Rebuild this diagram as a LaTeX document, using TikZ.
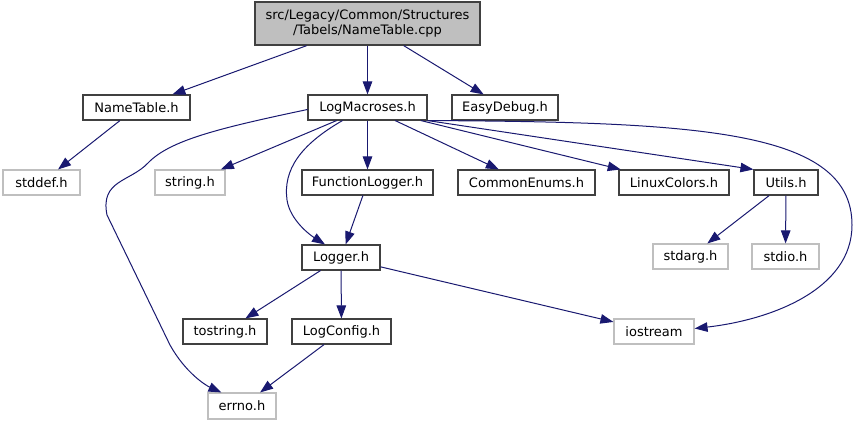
\documentclass[tikz,border=0pt]{standalone}
\usepackage{fontspec}
\setmainfont{DejaVu Sans}
\usetikzlibrary{arrows.meta}
\definecolor{edgeblue}{RGB}{25,25,112}
\definecolor{boxline}{RGB}{64,64,64}
\definecolor{sysline}{RGB}{191,191,191}
\definecolor{rootbg}{RGB}{191,191,191}

\begin{document}
\begin{tikzpicture}[x=1pt, y=-1pt,
  hdr/.style={rectangle, draw=boxline, line width=1.1pt, inner sep=0pt,
              minimum height=25pt, font=\fontsize{13}{15}\selectfont},
  sys/.style={hdr, draw=sysline},
  top/.style={hdr, fill=rootbg, align=center, line width=1.3pt},
  arr/.style={-{Triangle[length=13pt, width=9.5pt]}, line width=1pt, color=edgeblue}
]
  \useasboundingbox (0,0) rectangle (857,425);

  \node[top, minimum width=225pt, minimum height=43pt] (root) at (367.5,23.5)
    {src/Legacy/Common/Structures\\/Tabels/NameTable.cpp};

  \node[hdr, minimum width=107pt] (nametab) at (136.5,107.5) {NameTable.h};
  \node[hdr, minimum width=119pt] (logmac)  at (367.5,107.5) {LogMacroses.h};
  \node[hdr, minimum width=106pt] (easydbg) at (505,107.5)   {EasyDebug.h};

  \node[sys, minimum width=77pt]  (stddef)  at (41.5,182.5)  {stddef.h};
  \node[sys, minimum width=70pt]  (strh)    at (190,182.5)   {string.h};
  \node[hdr, minimum width=131pt] (funclog) at (367.5,182.5) {FunctionLogger.h};
  \node[hdr, minimum width=137pt] (cenums)  at (526.5,182.5) {CommonEnums.h};
  \node[hdr, minimum width=110pt] (lincol)  at (674,182.5)   {LinuxColors.h};
  \node[hdr, minimum width=64pt]  (utils)   at (786,182.5)   {Utils.h};

  \node[hdr, minimum width=78pt]  (logger)  at (341,257.5)   {Logger.h};
  \node[sys, minimum width=75pt]  (stdarg)  at (690.5,256.5) {stdarg.h};
  \node[sys, minimum width=67pt]  (stdio)   at (785.5,256.5) {stdio.h};

  \node[hdr, minimum width=84pt]  (tostr)   at (225,331.5)   {tostring.h};
  \node[hdr, minimum width=99pt]  (logcfg)  at (341.5,331.5) {LogConfig.h};
  \node[sys, minimum width=80pt]  (iostrm)  at (654,331.5)   {iostream};

  \node[sys, minimum width=68pt, minimum height=26pt] (errno) at (242,406) {errno.h};

  % includes of the cpp file
  \draw[arr] (root) -- (nametab);
  \draw[arr] (root) -- (logmac);
  \draw[arr] (root) -- (easydbg);
  \draw[arr] (nametab) -- (stddef);

  % includes of LogMacroses.h
  \draw[arr] ([yshift=-2pt]logmac.west) .. controls (220,128) and (170,140) .. (148,163)
    .. controls (130,182) and (100,180) .. (107,215)
    -- (170,345) .. controls (185,372) and (205,385) .. ([xshift=14pt]errno.north west);
  \draw[arr] (logmac) -- (strh);
  \draw[arr] ([xshift=-25pt]logmac.south) .. controls (300,145) and (283,170) .. (287,200)
    .. controls (290,220) and (310,235) .. ([xshift=-16pt]logger.north);
  \draw[arr] (logmac) -- (funclog);
  \draw[arr] (logmac) -- (cenums);
  \draw[arr] (logmac) -- (lincol);
  \draw[arr] (logmac.south east) -- (utils.north west);
  \draw[arr] (logmac.south east) .. controls (700,122) and (852,130) .. (852,225)
    .. controls (852,290) and (770,320) .. ([yshift=3pt]iostrm.east);

  % the rest
  \draw[arr] (utils) -- (stdarg);
  \draw[arr] (utils) -- (stdio);
  \draw[arr] (funclog) -- (logger);
  \draw[arr] (logger) -- (tostr);
  \draw[arr] (logger) -- (logcfg);
  \draw[arr] (logger) -- (iostrm);
  \draw[arr] (logcfg) -- (errno);
\end{tikzpicture}
\end{document}
